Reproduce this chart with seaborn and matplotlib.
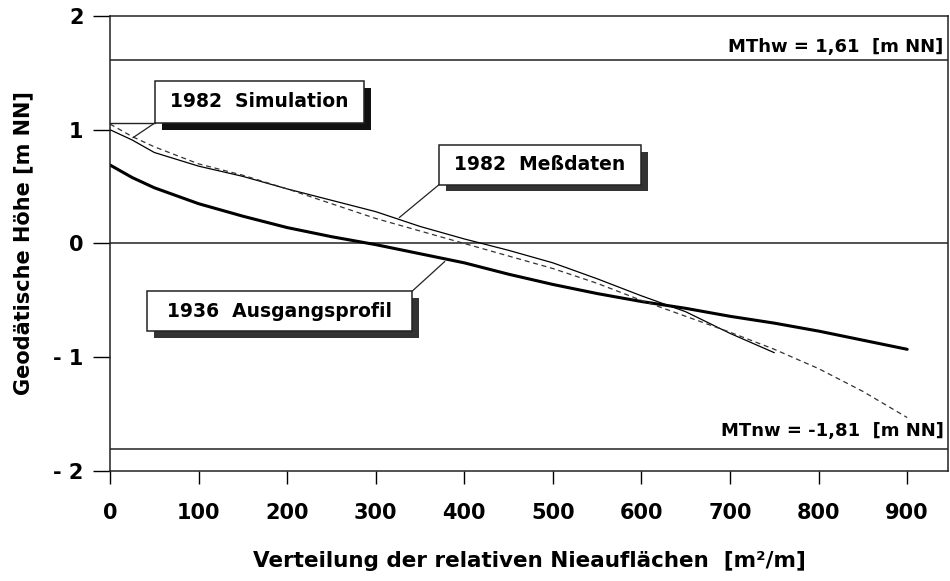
import numpy as np
import pandas as pd
import matplotlib
matplotlib.use('Agg')
import matplotlib.pyplot as plt
from matplotlib.patches import Rectangle
import seaborn as sns

# Profile data
x_sim = [0, 25, 50, 100, 150, 200, 250, 300, 350, 400, 450, 500, 550, 600, 650, 700, 750]
y_sim = [1.00, 0.91, 0.80, 0.68, 0.59, 0.48, 0.38, 0.28, 0.15, 0.04, -0.06, -0.17, -0.31, -0.46, -0.60, -0.79, -0.96]

x_mess = [0, 25, 50, 100, 150, 200, 250, 300, 350, 400, 450, 500, 550, 600, 650, 700, 750, 800, 850, 900]
y_mess = [1.05, 0.94, 0.85, 0.70, 0.60, 0.48, 0.35, 0.22, 0.11, 0.00, -0.11, -0.22, -0.35, -0.50, -0.64, -0.78, -0.93, -1.10, -1.30, -1.53]

x_1936 = [0, 25, 50, 100, 150, 200, 250, 300, 350, 400, 450, 500, 550, 600, 650, 700, 750, 800, 850, 900]
y_1936 = [0.69, 0.58, 0.49, 0.35, 0.24, 0.14, 0.06, -0.01, -0.09, -0.17, -0.27, -0.36, -0.44, -0.51, -0.57, -0.64, -0.70, -0.77, -0.85, -0.93]

mthw = 1.61
mtnw = -1.81

x_ticks = [0, 100, 200, 300, 400, 500, 600, 700, 800, 900]
y_ticks = [-2, -1, 0, 1, 2]
y_ticklabels = ['- 2', '- 1', '0', '1', '2']

sns.set_style('ticks')
plt.rcParams['font.family'] = ['DejaVu Sans']
plt.rcParams['font.weight'] = 'bold'
plt.rcParams['text.color'] = 'black'
plt.rcParams['axes.labelcolor'] = 'black'

fig = plt.figure(figsize=(9.5, 5.81), dpi=100)
ax = fig.add_axes([0.1158, 0.1893, 0.882, 0.7832])

sim = pd.DataFrame({'x': x_sim, 'y': y_sim})
mess = pd.DataFrame({'x': x_mess, 'y': y_mess})
old = pd.DataFrame({'x': x_1936, 'y': y_1936})

# reference lines (MThw, NN, MTnw)
for yv in [mthw, 0, mtnw]:
    ax.axhline(yv, color='#222222', lw=1.1, zorder=1)

sns.lineplot(data=old, x='x', y='y', ax=ax, color='black', lw=2.2, sort=False)
sns.lineplot(data=sim, x='x', y='y', ax=ax, color='black', lw=0.9, sort=False)
sns.lineplot(data=mess, x='x', y='y', ax=ax, color='#333333', lw=0.9, sort=False,
             linestyle=(0, (4, 3)))

ax.set_xlim(0, 946)
ax.set_ylim(-2, 2)
ax.set_xticks(x_ticks)
ax.set_xticklabels([str(v) for v in x_ticks])
ax.set_yticks(y_ticks)
ax.set_yticklabels(y_ticklabels)
ax.tick_params(axis='x', length=9, width=1, pad=14, labelsize=15, colors='black')
ax.tick_params(axis='y', length=12, width=1, pad=7, labelsize=15, colors='black')
for lab in ax.get_xticklabels() + ax.get_yticklabels():
    lab.set_fontweight('bold')
for side in ['top', 'right', 'left', 'bottom']:
    ax.spines[side].set_visible(True)
    ax.spines[side].set_color('#222222')
    ax.spines[side].set_linewidth(1.1)

ax.set_xlabel('Verteilung der relativen Nieauflächen  [m²/m]', fontsize=15.5,
              fontweight='bold', labelpad=20)
ax.set_ylabel('Geodätische Höhe [m NN]', fontsize=15, fontweight='bold', labelpad=14)

ax.text(941, 1.73, 'MThw = 1,61  [m NN]', ha='right', va='center', fontsize=13, fontweight='bold')
ax.text(941, -1.65, 'MTnw = -1,81  [m NN]', ha='right', va='center', fontsize=13, fontweight='bold')


def label_box(x0, y0, x1, y1, text, lead_from, lead_to, shadow='#111111'):
    # shadow offset of a few pixels, then white box with frame
    dx, dy = 8, -0.06
    ax.add_patch(Rectangle((x0 + dx, y1 + dy), x1 - x0, y0 - y1, facecolor=shadow,
                           edgecolor='none', zorder=4))
    ax.add_patch(Rectangle((x0, y1), x1 - x0, y0 - y1, facecolor='white',
                           edgecolor='#222222', lw=1.1, zorder=5))
    ax.text((x0 + x1) / 2, (y0 + y1) / 2, text, ha='center', va='center',
            fontsize=13.5, fontweight='bold', zorder=6)
    ax.plot([lead_from[0], lead_to[0]], [lead_from[1], lead_to[1]], color='#222222',
            lw=0.9, zorder=3)


ax.plot([0, 50.7], [1.06, 1.06], color='#222222', lw=1.0)
label_box(50.7, 1.43, 287, 1.06, '1982  Simulation', (50.7, 1.06), (25.9, 0.93))
label_box(371.6, 0.868, 599, 0.518, '1982  Meßdaten', (371.6, 0.518), (326.6, 0.228), '#333333')
label_box(41.7, -0.42, 341, -0.77, '1936  Ausgangsprofil', (341, -0.42), (378, -0.158), '#333333')

fig.savefig('out.png', dpi=100)
